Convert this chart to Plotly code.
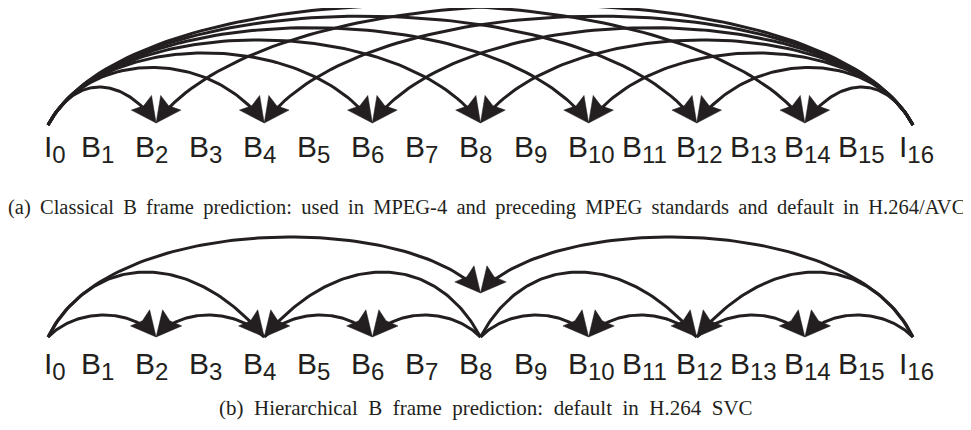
import numpy as np
import plotly.graph_objects as go

# ---------------- data ----------------
frame_types = ["I", "B", "B", "B", "B", "B", "B", "B", "B",
               "B", "B", "B", "B", "B", "B", "B", "I"]
frame_index = [0, 1, 2, 3, 4, 5, 6, 7, 8, 9, 10, 11, 12, 13, 14, 15, 16]

# (a) classical B prediction: every even B refers to I0 and I16
classic_src = [0, 0, 0, 0, 0, 0, 0, 16, 16, 16, 16, 16, 16, 16]
classic_tgt = [2, 4, 6, 8, 10, 12, 14, 2, 4, 6, 8, 10, 12, 14]

# (b) hierarchical B prediction
hier_src = [0, 16, 0, 8, 8, 16, 0, 4, 4, 8, 8, 12, 12, 16]
hier_tgt = [8, 8, 4, 4, 12, 12, 2, 2, 6, 6, 10, 10, 14, 14]

caption_a = ("(a) Classical B frame prediction: used in MPEG-4 and preceding "
             "MPEG standards and default in H.264/AVC")
caption_b = "(b) Hierarchical B frame prediction: default in H.264 SVC"

# ---------------- geometry helpers ----------------
W, H = 971, 430
PAGE = 8.0                    # page margin of the html body
X0, DX = 48.0, 54.06          # pixel x of frame 0, pixel per frame
INK = "#231f20"

def fx(f):
    return X0 + DX * f

def to_fu(px):
    return (px - X0) / DX

def bezier(p0, p1, p2, p3, n=90):
    t = np.linspace(0, 1, n)[:, None]
    return ((1 - t) ** 3) * p0 + 3 * ((1 - t) ** 2) * t * p1 + \
        3 * (1 - t) * t ** 2 * p2 + t ** 3 * p3

def solve_ctrl_y(ys, yt, ypeak):
    lo, hi = ypeak - 400, ypeak
    t = np.linspace(0, 1, 400)
    for _ in range(60):
        yc = 0.5 * (lo + hi)
        y = (1 - t) ** 3 * ys + 3 * (1 - t) ** 2 * t * yc + 3 * (1 - t) * t ** 2 * yc + t ** 3 * yt
        if y.min() < ypeak:
            lo = yc
        else:
            hi = yc
    return 0.5 * (lo + hi)

def arc(xs, ys, xt, yt, ypeak, a_start=60, a_end=52):
    s = 1.0 if xt > xs else -1.0
    yc = solve_ctrl_y(ys, yt, ypeak)
    v1, v2 = ys - yc, yt - yc
    p0 = np.array([xs, ys])
    p1 = np.array([xs + s * v1 / np.tan(np.radians(a_start)), yc])
    p2 = np.array([xt - s * v2 / np.tan(np.radians(a_end)), yc])
    p3 = np.array([xt, yt])
    pts = bezier(p0, p1, p2, p3)
    d = p3 - p2
    d = d / np.linalg.norm(d)
    return pts, d

def arrowhead(tip, d, L=25.0, hw=12.5, notch=0.85):
    n = np.array([-d[1], d[0]])
    back = tip - L * d
    b1 = back + hw * n
    b2 = back - hw * n
    nb = tip - notch * L * d
    return np.array([tip, b1, nb, b2, tip])

# ---------------- build marks ----------------
lx, ly, hx, hy = [], [], [], []

def add(pts, d):
    tip = pts[-1]
    head = arrowhead(tip, d)
    keep = np.linalg.norm(pts - tip, axis=1) > 12
    p = pts[keep]
    lx.extend(list(to_fu(p[:, 0])) + [None])
    ly.extend(list(p[:, 1]) + [None])
    hx.extend(list(to_fu(head[:, 0])) + [None])
    hy.extend(list(head[:, 1]) + [None])

# (a) classical
TOP_Y = 124.0
for s_, t_ in zip(classic_src, classic_tgt):
    span = abs(t_ - s_)
    h = 37 + 82 * ((span - 2) / 12.0) ** 0.8
    pts, d = arc(fx(s_), TOP_Y + 1, fx(t_), TOP_Y - 1, TOP_Y - h, a_start=62, a_end=54)
    add(pts, d)

# (b) hierarchical
BOT_Y = 337.0
for s_, t_ in zip(hier_src, hier_tgt):
    span = abs(t_ - s_)
    if span == 8:
        yt, peak, a0 = BOT_Y - 44, BOT_Y - 100, 65
    elif span == 4:
        yt, peak, a0 = BOT_Y, BOT_Y - 65, 62
    else:
        yt, peak, a0 = BOT_Y, BOT_Y - 22, 45
    pts, d = arc(fx(s_), BOT_Y, fx(t_), yt, peak, a_start=a0, a_end=50)
    add(pts, d)

fig = go.Figure()
fig.add_trace(go.Scatter(x=lx, y=ly, mode="lines",
                         line=dict(color=INK, width=3), hoverinfo="skip",
                         showlegend=False))
fig.add_trace(go.Scatter(x=hx, y=hy, mode="lines", fill="toself",
                         fillcolor=INK, line=dict(color=INK, width=0.5),
                         hoverinfo="skip", showlegend=False))

# ---------------- labels ----------------
def label_offset(ft, i):
    if ft == "B":
        return 23.0
    return 6.0 if i == 0 else 16.0

for row_y in (149.0, 366.0):
    for ft, i in zip(frame_types, frame_index):
        fig.add_annotation(
            x=i - label_offset(ft, i) / DX, y=row_y, xref="x", yref="y",
            text=f"{ft}<sub><span style='font-size:24px'>{i}</span></sub>",
            showarrow=False, xanchor="left", yanchor="middle",
            font=dict(family="Liberation Sans, Arial", size=30, color=INK))

fig.add_annotation(x=to_fu(486.5), y=207, xref="x", yref="y",
                   text=caption_a.replace(" ", " \u2009"),
                   showarrow=False, xanchor="center", yanchor="middle",
                   font=dict(family="Liberation Serif, Times New Roman", size=20.5, color=INK))
fig.add_annotation(x=to_fu(486), y=408, xref="x", yref="y",
                   text=caption_b.replace(" ", "\u2002"),
                   showarrow=False, xanchor="center", yanchor="middle",
                   font=dict(family="Liberation Serif, Times New Roman", size=21, color=INK))

fig.update_xaxes(range=[to_fu(PAGE), to_fu(PAGE + W)], visible=False, fixedrange=True)
fig.update_yaxes(range=[PAGE + H, PAGE], visible=False, fixedrange=True)
fig.update_layout(width=W, height=H, margin=dict(l=0, r=0, t=0, b=0),
                  paper_bgcolor="white", plot_bgcolor="white")

fig.write_html("out.html")
